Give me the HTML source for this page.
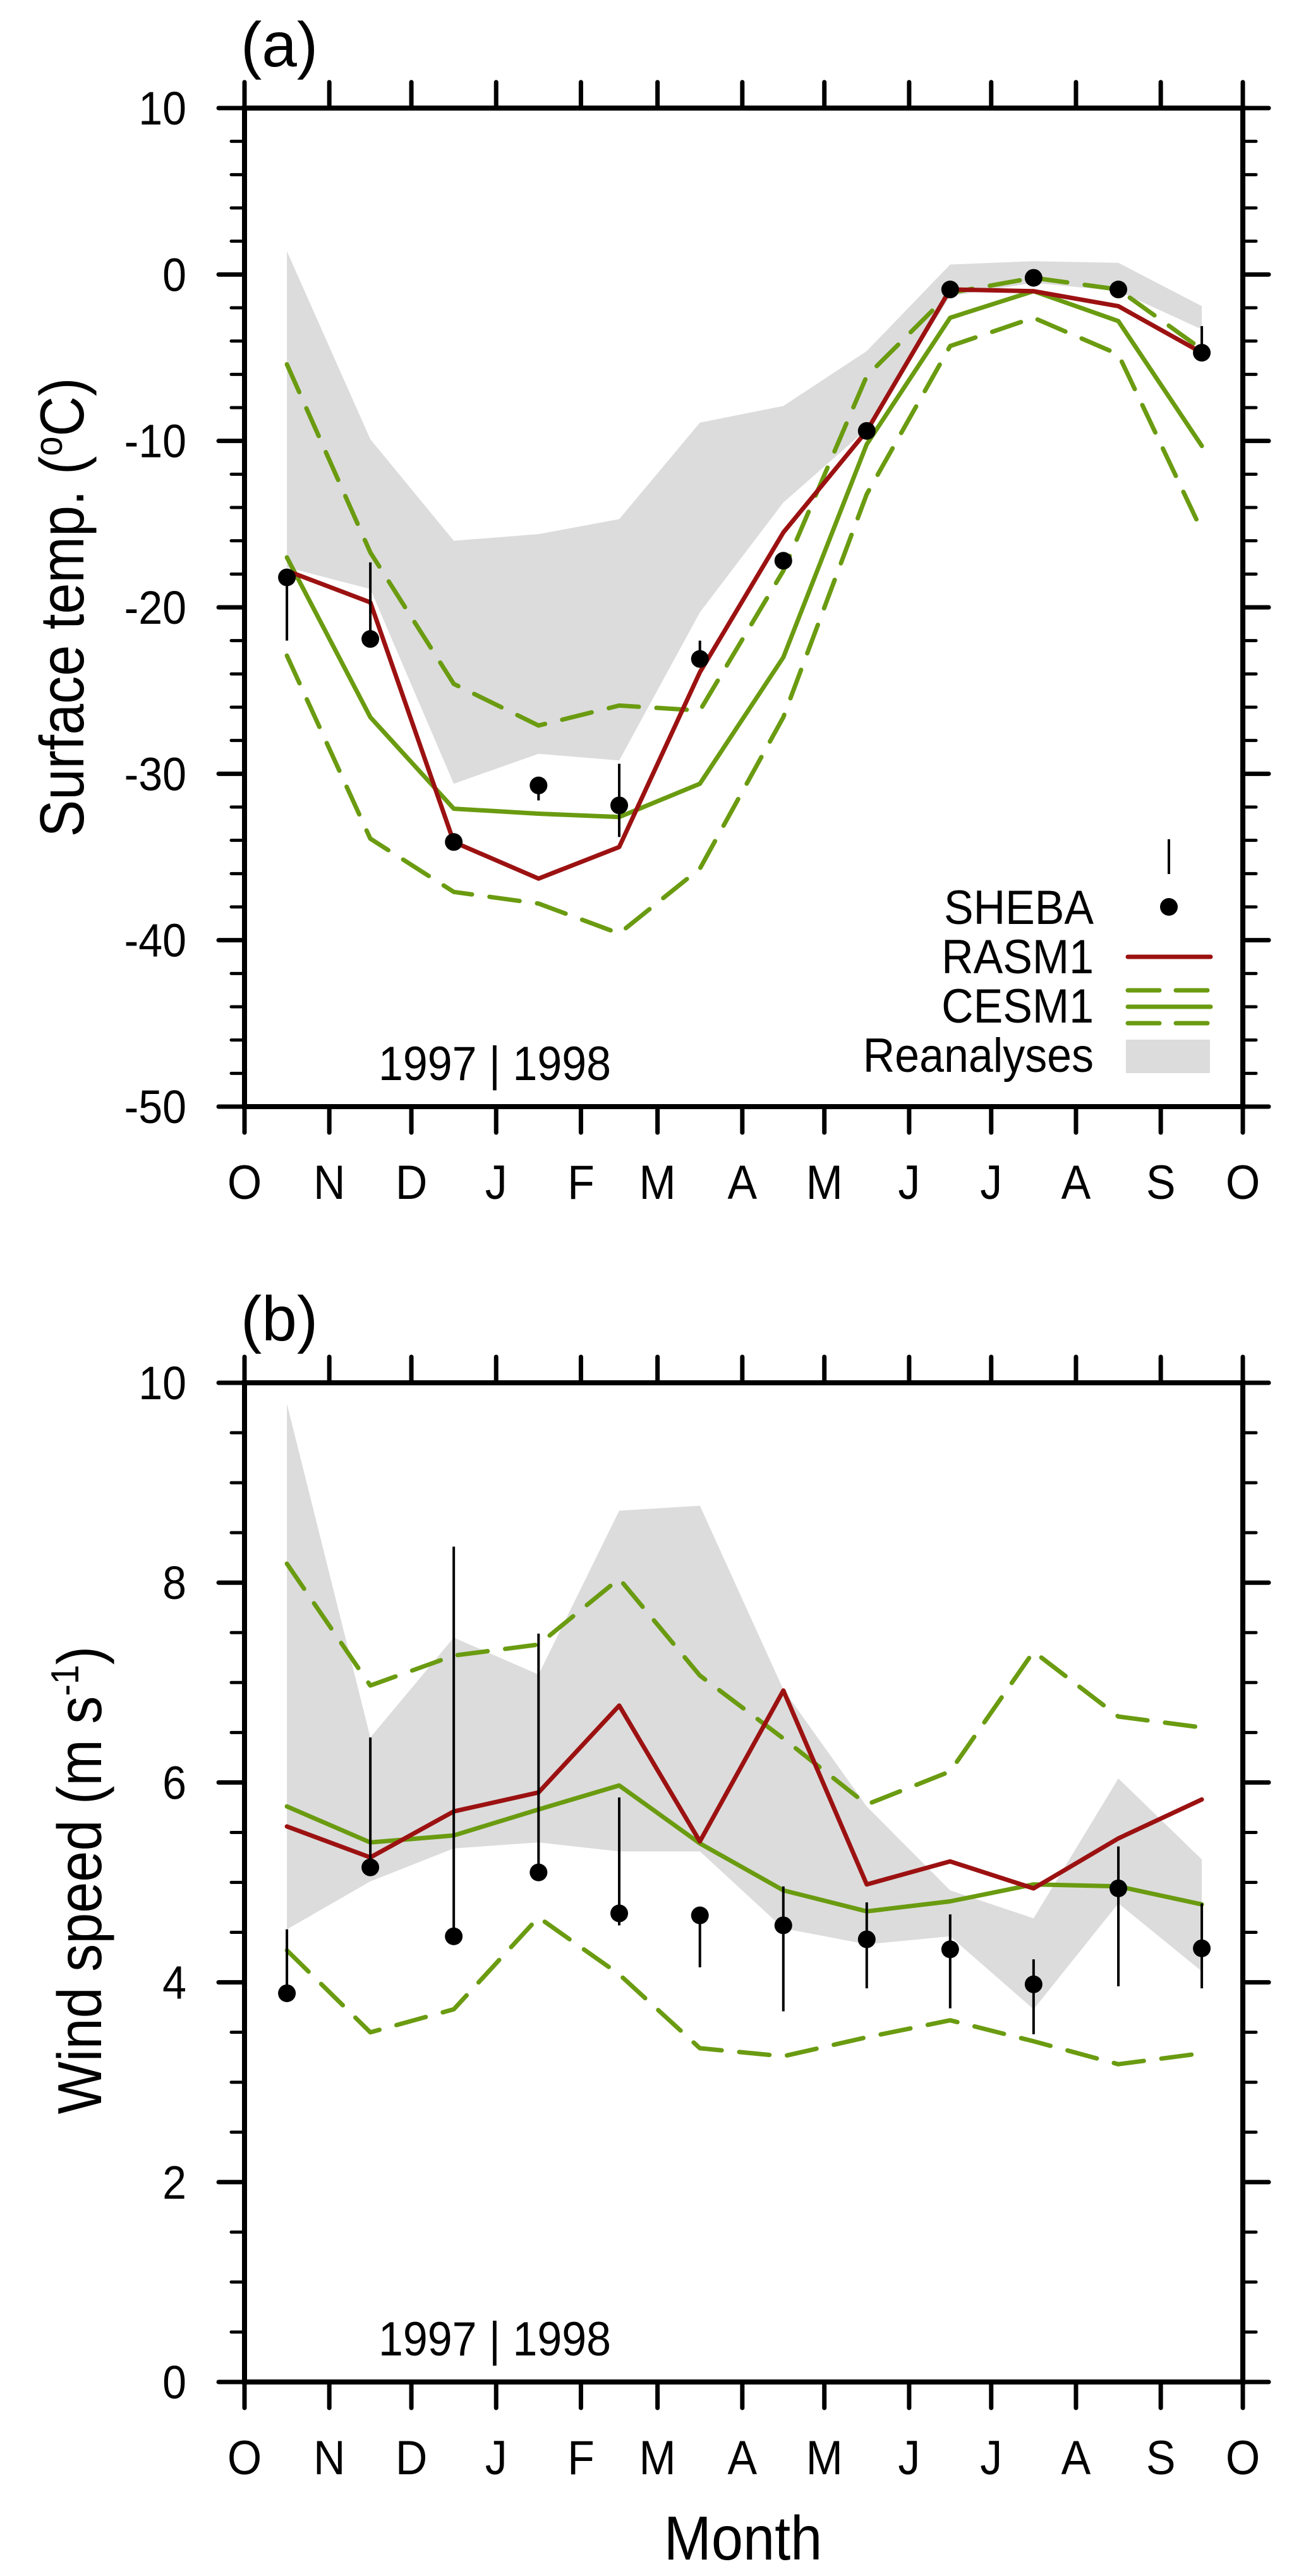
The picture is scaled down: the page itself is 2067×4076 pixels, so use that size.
<!DOCTYPE html>
<html><head><meta charset="utf-8"><style>
html,body{margin:0;padding:0;background:#fff;}
svg{display:block;font-family:"Liberation Sans",Arial,sans-serif;}
</style></head><body>
<svg id="chart" xmlns="http://www.w3.org/2000/svg" width="2067" height="4076" viewBox="0 0 2067 4076">
<rect x="0" y="0" width="2067" height="4076" fill="#fff"/>
</svg>
<script>
// ---- data ----
const months = ["O","N","D","J","F","M","A","M","J","J","A","S","O"];
const monthDays = [31,30,31,31,28,31,30,31,30,31,31,30];
// panel a: surface temperature
const tSheba   = [-18.2,-21.9,-34.1,-30.7,-31.9,-23.1,-17.2,-9.4,-0.9,-0.2,-0.9,-4.7];
const tShebaHi = [-18.2,-17.3,-34.1,-30.2,-29.4,-22.0,-17.2,-9.4,-0.9,-0.2,-0.9,-3.1];
const tShebaLo = [-22.0,-21.9,-34.1,-31.6,-33.8,-23.1,-17.2,-9.4,-0.9,-0.2,-0.9,-4.7];
const tRasm    = [-17.8,-19.7,-34.1,-36.3,-34.4,-23.9,-15.5,-9.4,-0.9,-1.0,-1.9,-4.7];
const tCesm    = [-17.0,-26.6,-32.1,-32.4,-32.6,-30.6,-23.0,-10.2,-2.6,-1.0,-2.8,-10.3];
const tCesmHi  = [-5.4,-16.7,-24.6,-27.1,-25.9,-26.2,-17.8,-6.1,-1.1,-0.2,-0.9,-4.5];
const tCesmLo  = [-22.9,-33.9,-37.1,-37.8,-39.6,-35.7,-26.6,-13.2,-4.3,-2.6,-4.8,-15.4];
const tReaHi   = [1.4,-9.9,-16.0,-15.6,-14.7,-8.9,-7.9,-4.6,0.6,0.8,0.7,-1.9];
const tReaLo   = [-17.6,-18.9,-30.6,-28.8,-29.2,-20.3,-13.7,-9.3,-1.3,-0.5,-1.0,-3.3];
const tTicks   = [10,0,-10,-20,-30,-40,-50];
// panel b: wind speed
const wSheba   = [3.89,5.15,4.46,5.10,4.69,4.67,4.57,4.43,4.33,3.98,4.94,4.34];
const wShebaHi = [4.53,6.45,8.36,7.49,5.85,4.67,4.96,4.80,4.68,4.23,5.36,4.79];
const wShebaLo = [3.89,5.15,4.46,5.10,4.57,4.15,3.71,3.94,3.74,3.48,3.96,3.94];
const wRasm    = [5.56,5.25,5.71,5.90,6.77,5.41,6.92,4.98,5.21,4.94,5.44,5.83];
const wCesm    = [5.76,5.40,5.47,5.73,5.97,5.39,4.92,4.71,4.81,4.98,4.96,4.78];
const wCesmHi  = [8.19,6.97,7.27,7.38,8.04,7.07,6.44,5.78,6.11,7.31,6.66,6.55];
const wCesmLo  = [4.32,3.50,3.73,4.65,4.08,3.34,3.26,3.45,3.62,3.41,3.18,3.29];
const wReaHi   = [9.79,6.45,7.45,7.08,8.72,8.77,6.93,5.76,4.92,4.64,6.04,5.23];
const wReaLo   = [4.53,5.01,5.34,5.40,5.31,5.31,4.54,4.38,4.46,3.73,4.79,4.11];
const wTicks   = [10,8,6,4,2,0];

const NS="http://www.w3.org/2000/svg";
const svg=document.getElementById('chart');
const RED="#9c1111", GREEN="#6a9b10", GREY="#dcdcdc";
function mk(tag,attrs,parent){const e=document.createElementNS(NS,tag);for(const k in attrs)e.setAttribute(k,attrs[k]);(parent||svg).appendChild(e);return e;}

const X0=387,X1=1967;
const cum=[0];monthDays.forEach(d=>cum.push(cum[cum.length-1]+d));
const xDay=d=>X0+(X1-X0)*d/365;
const xMon=i=>xDay(cum[i]+monthDays[i]/2);

function panel(opt){
  const g=mk('g',{});
  
  
  const Y0=opt.top,Y1=opt.bottom;
  const y=v=>Y1-(v-opt.min)/(opt.max-opt.min)*(Y1-Y0);
  const pts=a=>a.map((v,i)=>xMon(i).toFixed(1)+','+y(v).toFixed(1)).join(' ');
  const up=opt.reaHi.map((v,i)=>xMon(i)+','+y(v));
  const lo=opt.reaLo.map((v,i)=>xMon(i)+','+y(v)).reverse();
  const band=mk('polygon',{points:up.concat(lo).join(' '),fill:GREY},g);
  
  
  const lines=[[opt.cesmHi,GREEN,true,'cesm1-upper-line'],[opt.cesmLo,GREEN,true,'cesm1-lower-line'],[opt.cesm,GREEN,false,'cesm1-mean-line'],[opt.rasm,RED,false,'rasm1-line']];
  lines.forEach(l=>{
    const p=mk('polyline',{points:pts(l[0]),fill:'none',stroke:l[1],'stroke-width':7,'stroke-linejoin':'round','stroke-linecap':'round'},g);
    if(l[2])p.setAttribute('stroke-dasharray','48 28');
    
    
  });
  opt.sheba.forEach((v,i)=>{
    const eb=mk('line',{x1:xMon(i),x2:xMon(i),y1:y(opt.shebaHi[i]),y2:y(opt.shebaLo[i]),stroke:'#000','stroke-width':4},g);
    
    
    const c=mk('circle',{cx:xMon(i),cy:y(v),r:14,fill:'#000'},g);
    
    
  });
  const ax=mk('g',{stroke:'#000','stroke-linecap':'round'},g);
  
  
  mk('rect',{x:X0,y:Y0,width:X1-X0,height:Y1-Y0,fill:'none','stroke-width':8},ax);
  cum.forEach((d,i)=>{
    const x=xDay(d);
    mk('line',{x1:x,x2:x,y1:Y0,y2:Y0-41,'stroke-width':7},ax);
    mk('line',{x1:x,x2:x,y1:Y1,y2:Y1+41,'stroke-width':7},ax);
    const t=mk('text',{transform:'translate('+x+','+(Y1+146)+') scale(0.92,1)','text-anchor':'middle','font-size':76,fill:'#000',stroke:'none'},g);
    t.textContent=months[i];
    
    
  });
  for(let v=opt.min;v<=opt.max+1e-9;v+=opt.minor){
    const yy=y(v);
    const major=Math.abs(Math.round(v/opt.major)*opt.major-v)<1e-6;
    const len=major?41:21;
    mk('line',{x1:X0,x2:X0-len,y1:yy,y2:yy,'stroke-width':major?7:5},ax);
    mk('line',{x1:X1,x2:X1+len,y1:yy,y2:yy,'stroke-width':major?7:5},ax);
  }
  opt.ticks.forEach(v=>{
    const t=mk('text',{transform:'translate(295,'+(y(v)+26)+') scale(0.92,1)','text-anchor':'end','font-size':74,fill:'#000'},g);
    t.textContent=v;
    
    
  });
  const yr=mk('text',{transform:'translate(783,'+(Y1-42)+') scale(0.92,1)','text-anchor':'middle','font-size':76,fill:'#000'},g);
  yr.textContent='1997 | 1998';
  
  
  const pl=mk('text',{x:381,y:opt.labelY,'font-size':100,fill:'#000'},g);
  pl.textContent=opt.label;
  
  
  return y;
}

panel({name:'panel-a-surface-temp',top:171,bottom:1751,min:-50,max:10,minor:2,major:10,ticks:tTicks,
  sheba:tSheba,shebaHi:tShebaHi,shebaLo:tShebaLo,rasm:tRasm,cesm:tCesm,cesmHi:tCesmHi,cesmLo:tCesmLo,reaHi:tReaHi,reaLo:tReaLo,label:'(a)',labelY:105});
panel({name:'panel-b-wind-speed',top:2188,bottom:3769,min:0,max:10,minor:0.5,major:2,ticks:wTicks,
  sheba:wSheba,shebaHi:wShebaHi,shebaLo:wShebaLo,rasm:wRasm,cesm:wCesm,cesmHi:wCesmHi,cesmLo:wCesmLo,reaHi:wReaHi,reaLo:wReaLo,label:'(b)',labelY:2121});
</script>
<svg style="position:absolute;left:0;top:0" width="2067" height="4076" viewBox="0 0 2067 4076" xmlns="http://www.w3.org/2000/svg" font-family="Liberation Sans, Arial, sans-serif">
  <text transform="translate(132,961) rotate(-90) scale(0.9,1)" text-anchor="middle" font-size="98">Surface temp. (<tspan font-size="62" dy="-34">o</tspan><tspan dy="34">C)</tspan></text>
  <text transform="translate(160,2975) rotate(-90) scale(0.9,1)" text-anchor="middle" font-size="98">Wind speed (m s<tspan font-size="62" dy="-36">-1</tspan><tspan dy="36">)</tspan></text>
  <text transform="translate(1176,4050) scale(0.92,1)" text-anchor="middle" font-size="98">Month</text>
  <g>
    <line x1="1850" x2="1850" y1="1328" y2="1383" stroke="#000" stroke-width="4"/>
    <circle cx="1850" cy="1435" r="14" fill="#000"/>
    <text transform="translate(1731,1462) scale(0.92,1)" text-anchor="end" font-size="76">SHEBA</text>
    <line x1="1785" x2="1916" y1="1514" y2="1514" stroke="#9c1111" stroke-width="7" stroke-linecap="round"/>
    <text transform="translate(1731,1540) scale(0.92,1)" text-anchor="end" font-size="76">RASM1</text>
    <line x1="1785" x2="1916" y1="1567" y2="1567" stroke="#6a9b10" stroke-width="7" stroke-linecap="round" stroke-dasharray="50 26"/>
    <line x1="1785" x2="1916" y1="1593" y2="1593" stroke="#6a9b10" stroke-width="7" stroke-linecap="round"/>
    <line x1="1785" x2="1916" y1="1619" y2="1619" stroke="#6a9b10" stroke-width="7" stroke-linecap="round" stroke-dasharray="50 26"/>
    <text transform="translate(1731,1618) scale(0.92,1)" text-anchor="end" font-size="76">CESM1</text>
    <rect x="1782" y="1645" width="133" height="53" fill="#dcdcdc"/>
    <text transform="translate(1731,1696) scale(0.92,1)" text-anchor="end" font-size="76">Reanalyses</text>
  </g>
</svg>
</body></html>
